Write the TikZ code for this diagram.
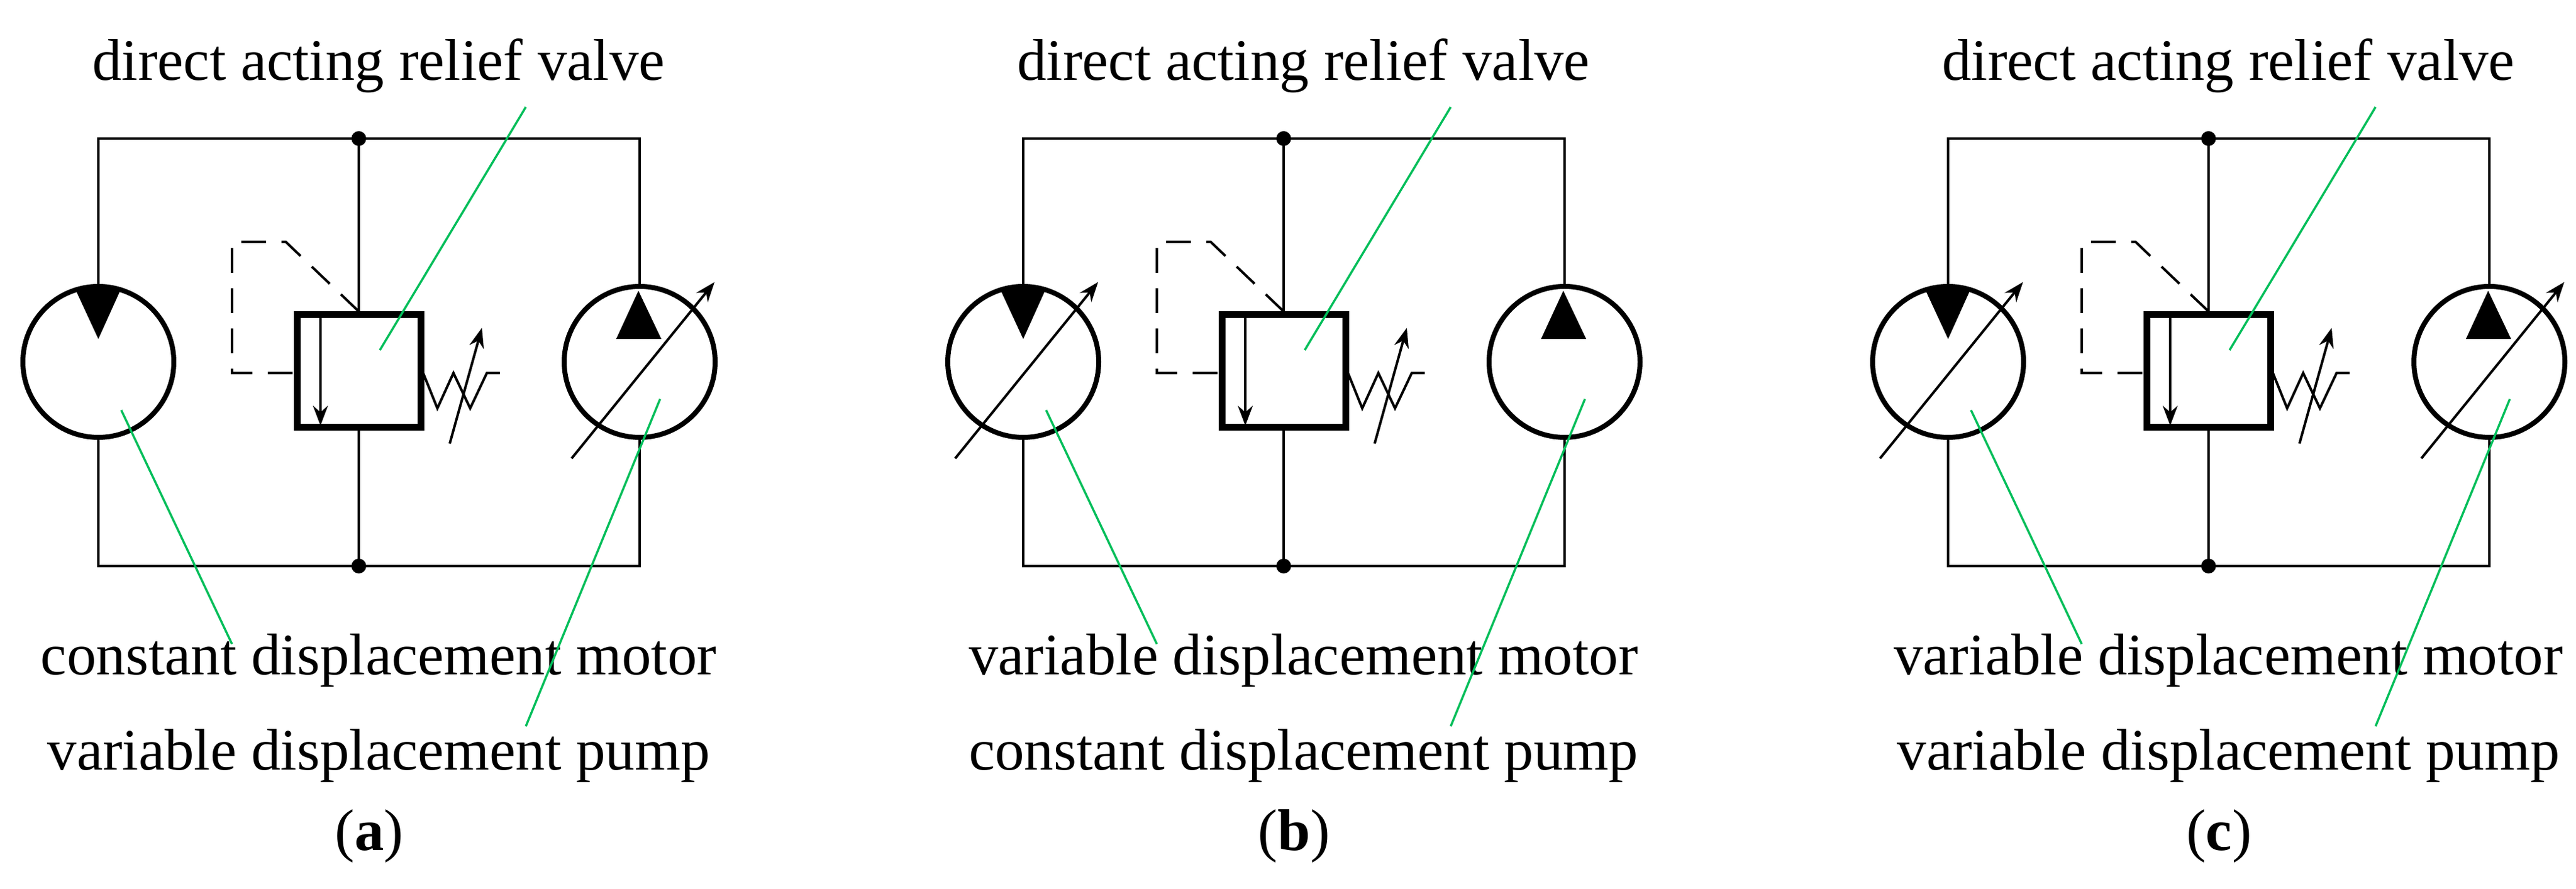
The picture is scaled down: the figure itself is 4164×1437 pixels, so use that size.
\documentclass[tikz,border=0pt]{standalone}
\usepackage{fontspec}
\setmainfont{Liberation Serif}
\usetikzlibrary{arrows.meta}

\tikzset{
  line/.style={line width=0.4pt},
  unit/.style={circle,draw,line width=0.8pt,minimum size=24.4pt,inner sep=0pt},
  valvebox/.style={rectangle,draw,line width=1.1pt,minimum width=20pt,minimum height=18.2pt,inner sep=0pt},
  leader/.style={draw={rgb,255:red,0;green,190;blue,90},line width=0.35pt},
  label/.style={font=\fontsize{9.5}{11}\selectfont,inner sep=0pt},
  tip/.style={-{Stealth[length=3.2pt,width=2.4pt]}}
}

% one circuit: offset, left variable?, right variable?, motor text, pump text, letter
\newcommand{\circuit}[6]{%
\begin{scope}[xshift=#1*0.1pt]
  % motor and pump
  \node[unit] (mL#6) at (159,585) {};
  \node[unit] (mR#6) at (1034,585) {};
  \fill (121,466) -- (196,466) -- (159,548) -- cycle;
  \fill (996,548) -- (1069,548) -- (1032,470) -- cycle;
  \ifnum#2=1 \draw[line,tip] (49,741) -- (280,456); \fi
  \ifnum#3=1 \draw[line,tip] (924,741) -- (1155,456); \fi
  % lines
  \coordinate (tl#6) at (159,224); \coordinate (tr#6) at (1034,224);
  \coordinate (bl#6) at (159,915); \coordinate (br#6) at (1034,915);
  \coordinate (tm#6) at (580,224); \coordinate (bm#6) at (580,915);
  \draw[line] (mL#6.north) -- (tl#6) -- (tr#6) -- (mR#6.north);
  \draw[line] (mL#6.south) -- (bl#6) -- (br#6) -- (mR#6.south);
  \fill (tm#6) circle (12); \fill (bm#6) circle (12);
  % relief valve
  \node[valvebox] (rv#6) at (580,600) {};
  \draw[line] (tm#6) -- (rv#6.north);
  \draw[line] (rv#6.south) -- (bm#6);
  \draw[line,tip] (518,509) -- (518,688);
  \draw[line,dash pattern=on 4pt off 2.5pt] (rv#6.north) -- (462,391) -- (375,391) -- (375,603) -- (480,603);
  \draw[line] (684,603) -- (707,660) -- (733,603) -- (760,660) -- (787,603) -- (808,603);
  \draw[line,tip] (727,717) -- (779,530);
  % labels
  \node[label] (trv#6) at (612,106) {direct acting relief valve};
  \node[label] (tmo#6) at (612,1068) {#4};
  \node[label] (tpu#6) at (612,1222) {#5};
  \node[label] (cap#6) at (597,1352) {(\textbf{#6})};
  \coordinate (erv#6) at (614,566); \coordinate (srv#6) at (850,173);
  \coordinate (emo#6) at (196,663); \coordinate (smo#6) at (375,1041);
  \coordinate (epu#6) at (1067,645); \coordinate (spu#6) at (850,1174);
  \draw[leader] (erv#6) -- (srv#6);
  \draw[leader] (emo#6) -- (smo#6);
  \draw[leader] (epu#6) -- (spu#6);
\end{scope}}

\begin{document}
\begin{tikzpicture}[x=0.1pt,y=-0.1pt]
\useasboundingbox (0,0) rectangle (4164,1437);
\circuit{0}{0}{1}{constant  displacement motor}{variable displacement  pump}{a}
\circuit{1495}{1}{0}{variable displacement  motor}{constant  displacement pump}{b}
\circuit{2990}{1}{1}{variable displacement  motor}{variable displacement  pump}{c}
\end{tikzpicture}
\end{document}
